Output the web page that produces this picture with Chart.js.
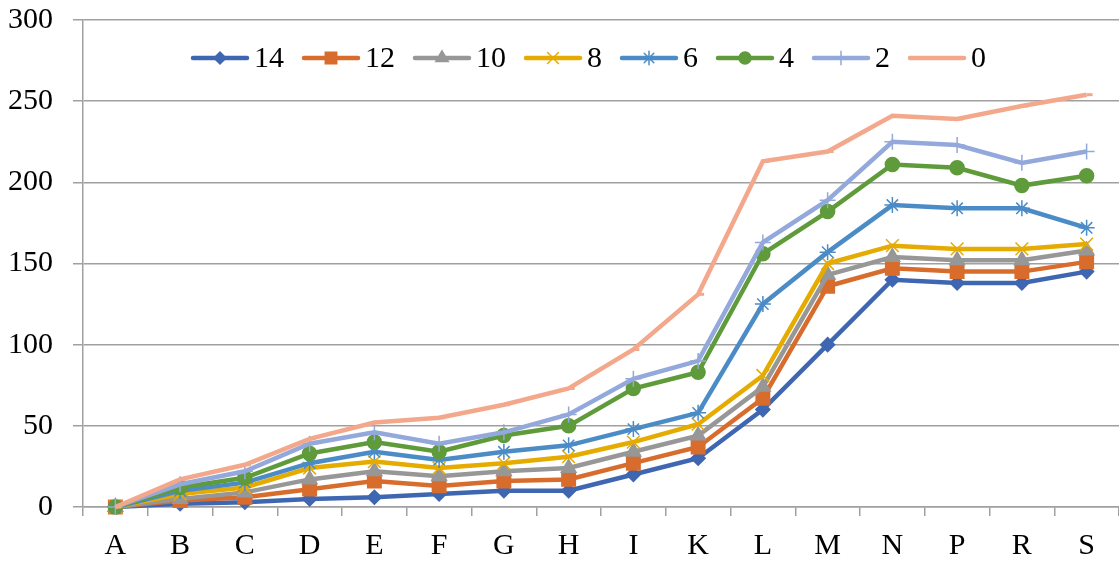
<!DOCTYPE html>
<html>
<head>
<meta charset="utf-8">
<script src="https://cdn.jsdelivr.net/npm/chart.js@4/dist/chart.umd.min.js"></script>
<style>
  html, body { margin: 0; padding: 0; background: #fff; }
  #wrap { width: 1119px; height: 564px; }
</style>
</head>
<body>
<div id="wrap"><canvas id="c" width="1119" height="564"></canvas></div>
<script>
// categories along the x axis
const categories = ['A','B','C','D','E','F','G','H','I','K','L','M','N','P','R','S'];
const yTicks = [0, 50, 100, 150, 200, 250, 300];

// series values
const s14 = [0, 2, 3, 5, 6, 8, 10, 10, 20, 30, 60, 100, 140, 138, 138, 145];
const s12 = [0, 4, 6, 11, 16, 13, 16, 17, 27, 37, 67, 136, 147, 145, 145, 151];
const s10 = [0, 5, 9, 17, 22, 19, 22, 24, 34, 44, 74, 143, 154, 152, 152, 158];
const s8  = [0, 8, 12, 24, 28, 24, 27, 31, 40, 51, 81, 150, 161, 159, 159, 162];
const s6  = [0, 10, 15, 27, 34, 29, 34, 38, 48, 58, 125, 157, 186, 184, 184, 172];
const s4  = [0, 12, 18, 33, 40, 34, 44, 50, 73, 83, 156, 182, 211, 209, 198, 204];
const s2  = [0, 14, 22, 39, 46, 39, 46, 57, 79, 90, 163, 189, 225, 223, 212, 219];
const s0  = [0, 17, 26, 42, 52, 55, 63, 73, 97, 131, 213, 219, 241, 239, 247, 254];

const seriesNames = ['14', '12', '10', '8', '6', '4', '2', '0'];
const seriesData = [s14, s12, s10, s8, s6, s4, s2, s0];
const seriesColors = ['#3F67B1', '#D86C2C', '#979797', '#E5AB00', '#4B8BC6', '#5F9B3B', '#93A8DB', '#F3A88C'];
const seriesMarkers = ['rectRot', 'rect', 'triangle', 'crossRot', 'star', 'circle', 'cross', 'dash'];
const markerRadius = [7, 9.5, 8.5, 9, 8, 7, 8, 6];

const FONT = 'Liberation Serif, "Times New Roman", serif';
const GRID = '#a0a0a0';

// legend drawn inside the plot area, like the original
const innerLegend = {
  id: 'innerLegend',
  afterDraw(chart) {
    const ctx = chart.ctx;
    const lineLen = 54, gapText = 7, gapItem = 20, cy = 58, centerX = 589.5;
    ctx.save();
    ctx.font = '30px ' + FONT;
    ctx.textBaseline = 'middle';
    ctx.textAlign = 'left';
    const widths = seriesNames.map(n => ctx.measureText(n).width);
    let total = 0;
    widths.forEach((w, i) => { total += lineLen + gapText + w + (i < widths.length - 1 ? gapItem : 0); });
    let x = centerX - total / 2;
    seriesNames.forEach((name, i) => {
      ctx.strokeStyle = seriesColors[i];
      ctx.lineWidth = 4.5;
      ctx.lineCap = 'round';
      ctx.beginPath();
      ctx.moveTo(x, cy);
      ctx.lineTo(x + lineLen, cy);
      ctx.stroke();
      if (seriesMarkers[i] !== 'dash' && Chart.helpers && Chart.helpers.drawPoint) {
        ctx.fillStyle = seriesColors[i];
        ctx.strokeStyle = seriesColors[i];
        ctx.lineWidth = 1.5;
        Chart.helpers.drawPoint(ctx, {
          pointStyle: seriesMarkers[i], rotation: 0,
          radius: markerRadius[i] * 0.85, borderWidth: 1.5
        }, x + lineLen / 2, cy);
      }
      ctx.fillStyle = '#000';
      ctx.fillText(name, x + lineLen + gapText, cy + 1);
      x += lineLen + gapText + widths[i] + gapItem;
    });
    ctx.restore();
  }
};

new Chart(document.getElementById('c'), {
  type: 'line',
  data: {
    labels: categories,
    datasets: seriesNames.map((n, i) => ({
      label: n,
      data: seriesData[i],
      borderColor: seriesColors[i],
      backgroundColor: seriesColors[i],
      pointBackgroundColor: seriesColors[i],
      pointBorderColor: seriesColors[i],
      borderWidth: 4.5,
      pointStyle: seriesMarkers[i],
      pointRadius: markerRadius[i],
      pointBorderWidth: seriesMarkers[i] === 'dash' ? 3 : 1.5,
      tension: 0,
      fill: false,
      clip: false,
      order: seriesNames.length - i
    }))
  },
  options: {
    responsive: false,
    animation: false,
    devicePixelRatio: 1,
    layout: { autoPadding: false, padding: { left: 8, right: -6, top: 20, bottom: 0 } },
    plugins: {
      legend: { display: false },
      tooltip: { enabled: false },
      title: { display: false }
    },
    scales: {
      x: {
        offset: true,
        grid: { display: true, drawOnChartArea: false, drawTicks: true, tickLength: 9, color: GRID, lineWidth: 1.5, offset: true },
        border: { display: true, color: GRID, width: 1.5 },
        ticks: { color: '#000', font: { family: FONT, size: 30 }, padding: 12, maxRotation: 0, autoSkip: false },
        afterFit: s => { s.paddingLeft = 0; s.paddingRight = 0; s.height = 57; }
      },
      y: {
        min: 0,
        max: 300,
        afterBuildTicks: axis => { axis.ticks = yTicks.map(v => ({ value: v })); },
        grid: { color: GRID, lineWidth: 1.5, tickLength: 10, drawTicks: true },
        border: { display: true, color: GRID, width: 1.5 },
        ticks: { color: '#000', font: { family: FONT, size: 30 }, padding: 20 },
        afterFit: s => { s.paddingTop = 0; s.paddingBottom = 0; s.width = 75; }
      }
    }
  },
  plugins: [innerLegend]
});
</script>
</body>
</html>
